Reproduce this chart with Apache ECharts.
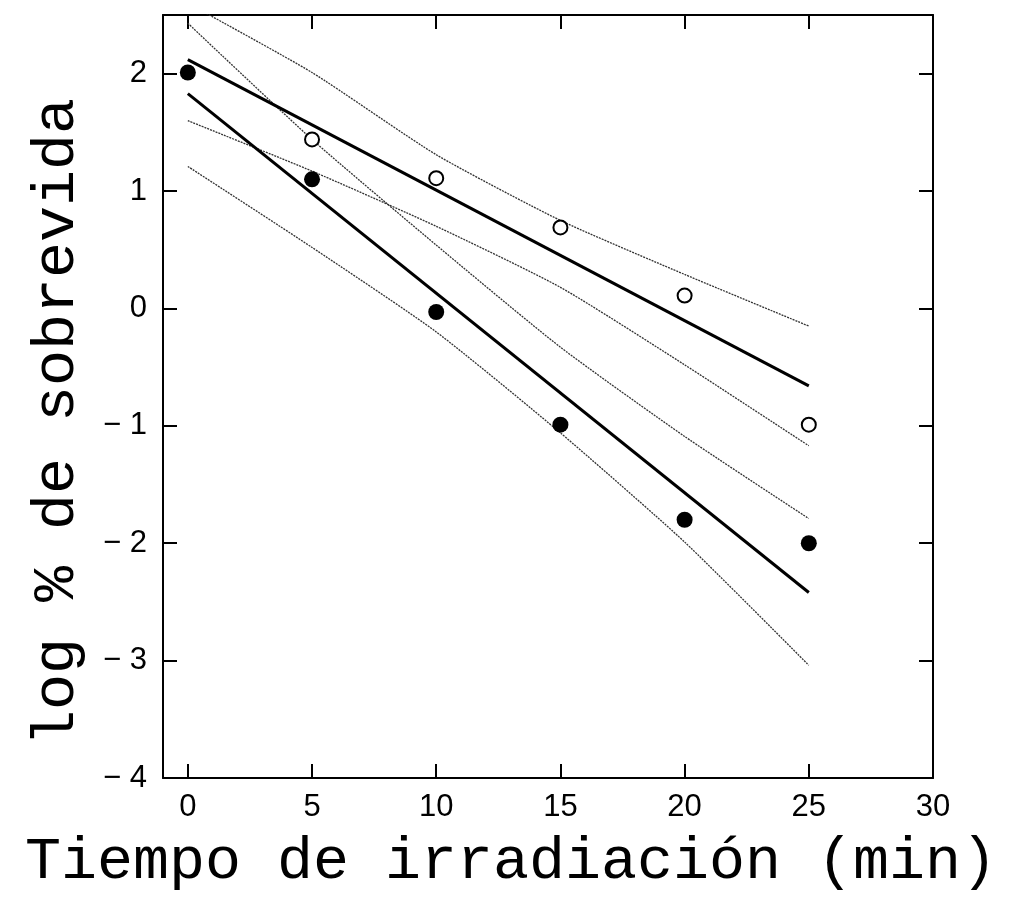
<!DOCTYPE html>
<html>
<head>
<meta charset="utf-8">
<script src="https://cdn.jsdelivr.net/npm/echarts@6/dist/echarts.min.js"></script>
<style>
  html, body { margin: 0; padding: 0; background: #fff; }
  #myChart { width: 1009px; height: 907px; }
</style>
</head>
<body>
<div id="myChart"></div>
<script>
  // tiempo (min)
  var tiempo = [0, 5, 10, 15, 20, 25];
  var xTicks = [0, 5, 10, 15, 20, 25, 30];
  var yTicks = [-4, -3, -2, -1, 0, 1, 2];

  // puntos medidos
  var llenos = [2.01, 1.10, -0.03, -0.99, -1.80, -2.00];
  var abiertosX = [5, 10, 15, 20, 25];
  var abiertos = [1.44, 1.11, 0.69, 0.11, -0.99];

  // rectas de regresion (extremos)
  var rectaX = [0, 25];
  var rectaLlenos = [1.83, -2.42];
  var rectaAbiertos = [2.12, -0.66];

  // bandas de confianza
  var bandaLlenosSup = [2.43, 1.44, 0.54, -0.33, -1.09, -1.79];
  var bandaLlenosInf = [1.21, 0.52, -0.20, -1.06, -1.99, -3.04];
  var bandaAbiertosSup = [2.60, 2.01, 1.31, 0.75, 0.29, -0.15];
  var bandaAbiertosInf = [1.60, 1.17, 0.70, 0.18, -0.48, -1.17];

  function pares(xs, ys) {
    var out = [];
    for (var i = 0; i < xs.length; i++) out.push([xs[i], ys[i]]);
    return out;
  }

  function banda(ys) {
    return {
      type: 'line',
      data: pares(tiempo, ys),
      showSymbol: false,
      smooth: 0.2,
      lineStyle: { color: '#333', width: 1.3, type: [2, 1] },
      z: 2,
      silent: true
    };
  }

  function recta(ys) {
    return {
      type: 'line',
      data: pares(rectaX, ys),
      showSymbol: false,
      lineStyle: { color: '#000', width: 3 },
      z: 3,
      silent: true
    };
  }

  var tickFont = { fontFamily: "'Liberation Sans Narrow', 'Liberation Sans', sans-serif", fontSize: 31, color: '#000' };
  var lineaEje = { onZero: false, lineStyle: { color: '#000', width: 2 } };

  function ejeX(pos, labels) {
    return {
      type: 'value', min: -1, max: 30, position: pos,
      axisLine: lineaEje,
      axisTick: { inside: true, length: 14, customValues: xTicks, lineStyle: { color: '#000', width: 2 } },
      axisLabel: Object.assign({ show: labels, margin: 14, customValues: xTicks }, tickFont),
      splitLine: { show: false }
    };
  }

  function ejeY(pos, labels) {
    return {
      type: 'value', min: -4, max: 2.5, position: pos,
      axisLine: lineaEje,
      axisTick: { inside: true, length: 14, customValues: yTicks, lineStyle: { color: '#000', width: 2 } },
      axisLabel: Object.assign({
        show: labels, margin: 16, customValues: yTicks,
        formatter: function (v) { return v < 0 ? '\u2212 ' + Math.abs(v) : String(v); }
      }, tickFont),
      splitLine: { show: false }
    };
  }

  var myChart = echarts.init(document.getElementById('myChart'));
  myChart.setOption({
    animation: false,
    backgroundColor: '#fff',
    grid: { left: 163, right: 76, top: 15, bottom: 129 },
    xAxis: [ejeX('bottom', true), ejeX('top', false)],
    yAxis: [ejeY('left', true), ejeY('right', false)],
    graphic: [
      {
        type: 'text', x: 511, y: 862,
        style: {
          text: 'Tiempo de irradiación (min)',
          font: "60px 'Liberation Mono', monospace",
          fill: '#000', align: 'center', verticalAlign: 'middle'
        }
      },
      {
        type: 'text', x: 57, y: 422, rotation: Math.PI / 2,
        style: {
          text: 'log % de sobrevida',
          font: "60px 'Liberation Mono', monospace",
          fill: '#000', align: 'center', verticalAlign: 'middle'
        }
      }
    ],
    series: [
      banda(bandaAbiertosSup),
      banda(bandaAbiertosInf),
      banda(bandaLlenosSup),
      banda(bandaLlenosInf),
      recta(rectaAbiertos),
      recta(rectaLlenos),
      {
        type: 'scatter',
        data: pares(abiertosX, abiertos),
        symbol: 'circle',
        symbolSize: 14,
        itemStyle: { color: '#fff', borderColor: '#000', borderWidth: 2, opacity: 1 },
        z: 5
      },
      {
        type: 'scatter',
        data: pares(tiempo, llenos),
        symbol: 'circle',
        symbolSize: 16,
        itemStyle: { color: '#000', opacity: 1 },
        z: 6
      }
    ]
  });
  window.onresize = myChart.resize;
</script>
</body>
</html>
